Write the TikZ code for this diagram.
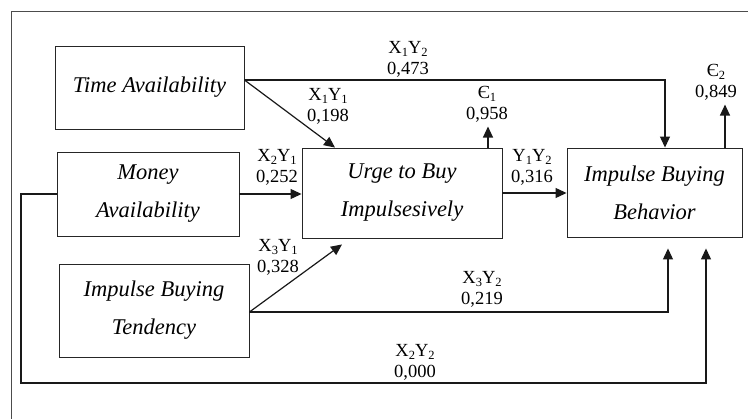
\documentclass[tikz,border=0pt]{standalone}
\usepackage{fontspec}
\setmainfont{Liberation Serif}
\newfontfamily\tnr{Liberation Serif}
\usetikzlibrary{arrows.meta,calc}
\newcommand{\lsub}[1]{\raisebox{-0.3ex}{\fontsize{12.5}{12.5}\selectfont #1}}
\begin{document}
\begin{tikzpicture}[x=1pt,y=-1pt,
  box/.style={draw=black!85,line width=0.9pt,inner sep=0pt,align=center,
    font=\tnr\fontsize{22.5}{38}\selectfont\itshape},
  conn/.style={draw=black!90,line width=1.2pt},
  arr/.style={conn,-{Triangle[length=11pt,width=10pt]}},
  lab/.style={align=center,anchor=base,inner sep=0pt,
    font=\tnr\fontsize{18.5}{21}\selectfont}]
\useasboundingbox (0,0) rectangle (748,419);
\fill[white] (0,0) rectangle (748,419);
% outer frame
\draw[black!70,line width=0.9pt] (748,11) -- (11,11) -- (11,419);
% boxes
\node[box,minimum width=189pt,minimum height=83pt] (T) at (149.5,87.5) {\raisebox{5pt}{Time Availability}};
\node[box,minimum width=182pt,minimum height=84pt] (M) at (148,194) {Money\\Availability};
\node[box,minimum width=190pt,minimum height=93pt] (I) at (154,310.5) {Impulse Buying\\Tendency};
\node[box,minimum width=200pt,minimum height=90pt] (U) at (402,193) {Urge to Buy\\Impulsesively};
\node[box,minimum width=175pt,minimum height=89pt] (B) at (654.5,192.5) {Impulse Buying\\Behavior};
% coordinates
\coordinate (mL) at (21,383);
\coordinate (mR) at (706,383);
% connectors
\draw[arr] ([yshift=7.5pt]T.east) -- ([xshift=-67pt]U.north);
\draw[arr] ([yshift=7.5pt]T.east) -| ([xshift=10.5pt]B.north);
\draw[arr] (M.east) -- (U.west |- M.east);
\draw[arr] (U.east) -- (B.west |- U.east);
\draw[arr] ([xshift=86pt]U.north) -- ++(0,-21);
\draw[arr] ([xshift=70.5pt]B.north) -- ++(0,-43);
\draw[arr] ([yshift=-1.5pt]I.east) -- ([xshift=-60pt,yshift=-6pt]U.south);
\draw[arr] ([yshift=-1.5pt]I.east) -| ([xshift=13.5pt,yshift=-11pt]B.south);
\draw[arr] (M.west) -| (mL) -- (mR) -- ([xshift=51.5pt,yshift=-11pt]B.south);
% labels (anchor = baseline of last line)
\node[lab] (l12) at (408,75) {X\lsub{1}Y\lsub{2}\\0,473};
\node[lab] (l11) at (328,122) {X\lsub{1}Y\lsub{1}\\0,198};
\node[lab] (e1) at (487,120) {Є\lsub{1}\\0,958};
\node[lab] (e2) at (716,98) {Є\lsub{2}\\0,849};
\node[lab] (l21) at (277,183) {X\lsub{2}Y\lsub{1}\\0,252};
\node[lab] (y12) at (532,183) {Y\lsub{1}Y\lsub{2}\\0,316};
\node[lab] (l31) at (278,273) {X\lsub{3}Y\lsub{1}\\0,328};
\node[lab] (l32) at (482,305) {X\lsub{3}Y\lsub{2}\\0,219};
\node[lab] (l22) at (415,378) {X\lsub{2}Y\lsub{2}\\0,000};
\end{tikzpicture}
\end{document}
